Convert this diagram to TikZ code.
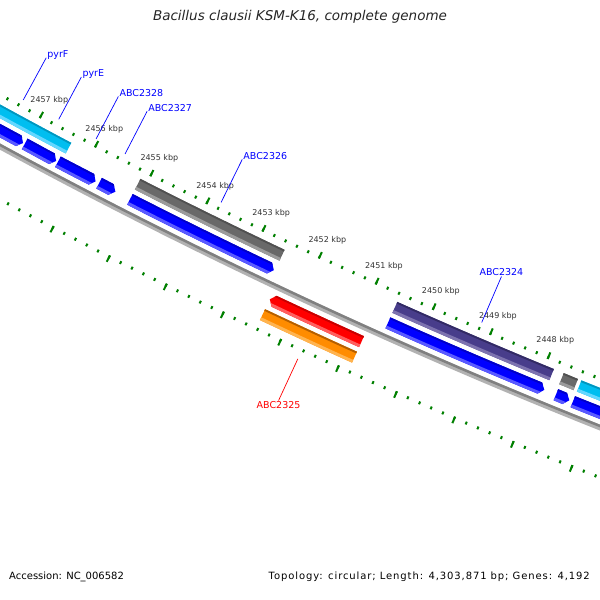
\documentclass[tikz,border=0pt]{standalone}
\usepackage{fontspec}
\setmainfont{DejaVu Sans}
\usetikzlibrary{positioning}

\definecolor{fblueM}{RGB}{0,0,255}
\definecolor{fblueL}{RGB}{90,90,255}
\definecolor{fblueD}{RGB}{0,0,200}
\definecolor{fcyanM}{RGB}{0,190,240}
\definecolor{fcyanL}{RGB}{100,215,255}
\definecolor{fcyanD}{RGB}{0,150,190}
\definecolor{fgrayM}{RGB}{105,105,105}
\definecolor{fgrayL}{RGB}{155,155,155}
\definecolor{fgrayD}{RGB}{80,80,80}
\definecolor{fpurpleM}{RGB}{72,61,139}
\definecolor{fpurpleL}{RGB}{125,115,175}
\definecolor{fpurpleD}{RGB}{50,42,100}
\definecolor{fredM}{RGB}{255,0,0}
\definecolor{fredL}{RGB}{255,95,95}
\definecolor{fredD}{RGB}{200,0,0}
\definecolor{forangeM}{RGB}{255,140,0}
\definecolor{forangeL}{RGB}{255,180,80}
\definecolor{forangeD}{RGB}{180,95,0}
\definecolor{tickgreen}{RGB}{0,128,0}

% ring piece between two radii
\newcommand{\sector}[4]{({#1}:{#3}) arc[start angle={#1}, end angle={#2}, radius={#3}] -- ({#2}:{#4}) arc[start angle={#2}, end angle={#1}, radius={#4}] -- cycle}
\newcommand{\boxshape}[3]{\sector{#1}{#2}{#3}{#3+12}}
\newcommand{\rshape}[3]{({#1}:{#3}) arc[start angle={#1}, end angle={#2-0.05}, radius={#3}] -- ({#2}:{#3+6}) -- ({#2-0.05}:{#3+12}) arc[start angle={#2-0.05}, end angle={#1}, radius={#3+12}] -- cycle}
\newcommand{\lshape}[3]{({#1}:{#3+6}) -- ({#1+0.05}:{#3}) arc[start angle={#1+0.05}, end angle={#2}, radius={#3}] -- ({#2}:{#3+12}) arc[start angle={#2}, end angle={#1+0.05}, radius={#3+12}] -- cycle}
% shape, colour, from, to, inner radius
\newcommand{\feat}[5]{%
  \begin{scope}
    \clip #1{#3}{#4}{#5};
    \fill[#2M] \sector{#3-0.1}{#4+0.1}{#5-1}{#5+13};
    \fill[#2L] \sector{#3-0.1}{#4+0.1}{#5+9}{#5+13};
    \fill[#2D] \sector{#3-0.1}{#4+0.1}{#5-1}{#5+1.8};
  \end{scope}}

\tikzset{
  ctr/.style={shift={(2650.9,5331.4)}},
  kbplbl/.style={font=\fontsize{8}{9}\selectfont, text=black!80, inner sep=0pt},
  genelbl/.style={font=\fontsize{9.5}{11}\selectfont, text=blue, inner sep=1pt},
  bleader/.style={draw=blue, line width=0.7pt},
  rleader/.style={draw=red, line width=0.7pt},
  minortick/.style={draw=tickgreen, line width=2pt},
  majortick/.style={draw=tickgreen, line width=2pt}
}

\begin{document}
\begin{tikzpicture}[x=1pt, y=1pt]
  \useasboundingbox (0,0) rectangle (600,600);
  \fill[white] (0,0) rectangle (600,600);

  \begin{scope}
    \clip (0,0) rectangle (600,600);
    \begin{scope}[ctr]
      % backbone
      \draw[line width=5.5pt, black!30] (240.9:5552) arc[start angle=240.9, end angle=248.6, radius=5552];
      \draw[line width=2.5pt, black!50] (240.9:5550.5) arc[start angle=240.9, end angle=248.6, radius=5550.5];

      % ticks
      \foreach \n in {0,...,58} {
        \draw[minortick] ({248.59-0.13*\n}:5505) -- ({248.59-0.13*\n}:5508);
        \draw[minortick] ({248.59-0.13*\n}:5597) -- ({248.59-0.13*\n}:5600);
      }
      \foreach \k in {2447,...,2458} {
        \draw[majortick] ({242.35+(2456-\k)*0.65}:5501) -- ({242.35+(2456-\k)*0.65}:5508);
        \draw[majortick] ({242.35+(2456-\k)*0.65}:5597) -- ({242.35+(2456-\k)*0.65}:5604);
      }
      \foreach \k in {2448,...,2457}
        \node[kbplbl] (kbp\k) at ({242.35+(2456-\k)*0.65}:5488) {\k\ kbp};

      % inner features
      \feat{\boxshape}{fcyan}{240.9}{242.11}{5515}
      \feat{\boxshape}{fgray}{242.92}{244.59}{5515}
      \feat{\boxshape}{fpurple}{245.88}{247.65}{5515}
      \feat{\boxshape}{fgray}{247.76}{247.92}{5515}
      \feat{\boxshape}{fcyan}{247.96}{248.6}{5515}

      \feat{\rshape}{fblue}{240.9}{241.67}{5532}
      \feat{\rshape}{fblue}{241.69}{242.06}{5532}
      \feat{\rshape}{fblue}{242.08}{242.52}{5532}
      \feat{\rshape}{fblue}{242.56}{242.75}{5532}
      \feat{\rshape}{fblue}{242.92}{244.58}{5532}
      \feat{\rshape}{fblue}{245.88}{247.64}{5532}
      \feat{\rshape}{fblue}{247.77}{247.92}{5532}
      \feat{\rshape}{fblue}{247.96}{248.6}{5532}

      % outer features
      \feat{\lshape}{fred}{244.67}{245.71}{5560}
      \feat{\boxshape}{forange}{244.67}{245.71}{5577}

      % labels
      \coordinate (pyrFpt) at (241.46:5500);
      \node[genelbl, anchor=base west] (pyrF) at (241.46:5452) {pyrF};
      \draw[bleader] (pyrF.base west) -- (pyrFpt);

      \coordinate (pyrEpt) at (241.88:5500);
      \node[genelbl, anchor=base west] (pyrE) at (241.88:5452) {pyrE};
      \draw[bleader] (pyrE.base west) -- (pyrEpt);

      \coordinate (abc28pt) at (242.32:5500);
      \node[genelbl, anchor=base west] (abc28) at (242.32:5452) {ABC2328};
      \draw[bleader] (abc28.base west) -- (abc28pt);

      \coordinate (abc27pt) at (242.66:5500);
      \node[genelbl, anchor=base west] (abc27) at (242.66:5452) {ABC2327};
      \draw[bleader] (abc27.base west) -- (abc27pt);

      \coordinate (abc26pt) at (243.78:5500);
      \node[genelbl, anchor=base west] (abc26) at (243.78:5452) {ABC2326};
      \draw[bleader] (abc26.base west) -- (abc26pt);

      \coordinate (abc24pt) at (246.77:5500);
      \node[genelbl, anchor=south] (abc24) at (246.77:5450) {ABC2324};
      \draw[bleader] (abc24.south) -- (abc24pt);

      \coordinate (abc25pt) at (245.19:5608);
      \node[genelbl, text=red, anchor=north] (abc25) at (245.19:5654) {ABC2325};
      \draw[rleader] (abc25.north) -- (abc25pt);
    \end{scope}
  \end{scope}

  \node[font=\fontsize{13.5}{15}\selectfont\itshape, text=black!85, anchor=base, inner sep=0pt] (title) at (300,579) {Bacillus clausii KSM-K16, complete genome};
  \node[font=\fontsize{10}{12}\selectfont, anchor=base west, inner sep=0pt] (acc) at (9,20) {Accession: NC\_006582};
  \node[font=\fontsize{10}{12}\selectfont\addfontfeatures{LetterSpace=9}, anchor=base east, inner sep=0pt] (topo) at (590,20) {Topology: circular; Length: 4,303,871 bp; Genes: 4,192};
\end{tikzpicture}
\end{document}
